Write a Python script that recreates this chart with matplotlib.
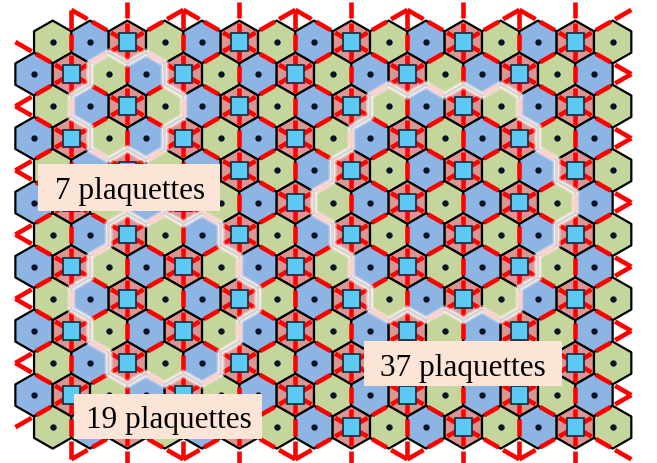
import numpy as np
import matplotlib
matplotlib.use('Agg')
import matplotlib.pyplot as plt
from matplotlib.patches import Rectangle, PathPatch
from matplotlib.collections import PolyCollection, LineCollection
from matplotlib.path import Path

# honeycomb of plaquettes: 13 rows of 16 cells, odd rows shifted half a cell to the left
n_rows = 13
n_cols = 16
# three-colouring of the plaquettes, pattern along a row (even rows / odd rows)
kinds_even = ['green', 'blue', 'red']
kinds_odd = ['blue', 'red', 'green']
fill_colors = {'green': '#C4D69B', 'blue': '#8DB4E2', 'red': '#DA9694'}

# highlighted clusters: (row, col) of the central plaquette and number of rings
cluster_centres = [(2, 2), (8, 3), (5, 11)]
cluster_rings = [1, 2, 3]
cluster_labels = ['7 plaquettes', '19 plaquettes', '37 plaquettes']

# label boxes (left, top, width, height) and text start (x, baseline) in pixels
label_boxes = [(38, 165, 182, 47), (74, 395, 188, 45), (364, 342, 198, 45)]
label_text_pos = [(55, 199), (86, 428), (380, 376)]

W, H = 657, 464
x0, y0 = 52.7, 43.0
dx, dy = 37.33, 32.1
R = dy / 1.5
hw = dx / 2


def centre(r, c):
    return x0 + c * dx - (r % 2) * hw, y0 + r * dy


def kind(r, c):
    row = kinds_odd if r % 2 else kinds_even
    return row[c % 3]


def cell_at(x, y):
    r = int(round((y - y0) / dy))
    c = int(round((x - x0 + (r % 2) * hw) / dx))
    return r, c


def is_real(r, c):
    return 0 <= r < n_rows and 0 <= c < n_cols


def axial(r, c):
    return c - (r + (r & 1)) // 2, r


def hex_dist(a, b):
    q1, r1 = axial(*a)
    q2, r2 = axial(*b)
    dq, dr = q1 - q2, r1 - r2
    return (abs(dq) + abs(dr) + abs(dq + dr)) // 2


hex_offsets = np.array([(0, -R), (hw, -R / 2), (hw, R / 2),
                        (0, R), (-hw, R / 2), (-hw, -R / 2)])

fig = plt.figure(figsize=(W / 100, H / 100), dpi=100)
ax = fig.add_axes([0, 0, 1, 1])
ax.set_xlim(0, W)
ax.set_ylim(H, 0)
ax.axis('off')

# plaquettes
polys, colors = [], []
for r in range(n_rows):
    for c in range(n_cols):
        cx, cy = centre(r, c)
        polys.append(hex_offsets + (cx, cy))
        colors.append(fill_colors[kind(r, c)])
ax.add_collection(PolyCollection(polys, facecolors=colors, edgecolors='black',
                                 linewidths=1.6, zorder=1))

# red dashed bonds between red plaquettes (triangular lattice)
steps = [(0, 2 * dy), (1.5 * dx, dy), (1.5 * dx, -dy)]
pieces = [(0.0, 0.29), (0.37, 0.63), (0.71, 1.0)]
red_segs = []
for r in range(-2, n_rows + 2):
    for c in range(-2, n_cols + 2):
        if kind(r, c) != 'red':
            continue
        ax_, ay_ = centre(r, c)
        for sx, sy in steps:
            bx, by = ax_ + sx, ay_ + sy
            if not (is_real(r, c) or is_real(*cell_at(bx, by))):
                continue
            for f0, f1 in pieces:
                red_segs.append([(ax_ + f0 * sx, ay_ + f0 * sy),
                                 (ax_ + f1 * sx, ay_ + f1 * sy)])
ax.add_collection(LineCollection(red_segs, colors='#FF0000', linewidths=3.3,
                                 capstyle='butt', zorder=2))

# squares on red plaquettes, dots on the others
dots_x, dots_y = [], []
for r in range(n_rows):
    for c in range(n_cols):
        cx, cy = centre(r, c)
        if kind(r, c) == 'red':
            s = 17.5
            ax.add_patch(Rectangle((cx - s / 2, cy - s / 2), s, s,
                                   facecolor='#5BC9F2', edgecolor='#1B3345',
                                   linewidth=1.3, zorder=3))
        else:
            dots_x.append(cx)
            dots_y.append(cy)
ax.scatter(dots_x, dots_y, s=21, color='#0A1628', zorder=3, linewidths=0)

# white outlines around the clusters
for ctr, k in zip(cluster_centres, cluster_rings):
    verts, codes = [], []
    for r in range(n_rows):
        for c in range(n_cols):
            if hex_dist((r, c), ctr) > k:
                continue
            cx, cy = centre(r, c)
            pts = hex_offsets + (cx, cy)
            for i in range(6):
                a, b = pts[i], pts[(i + 1) % 6]
                mx, my = (a + b) / 2
                nb = cell_at(2 * mx - cx, 2 * my - cy)
                if hex_dist(nb, ctr) > k:
                    verts += [tuple(a), tuple(b)]
                    codes += [Path.MOVETO, Path.LINETO]
    outline = Path(verts, codes)
    ax.add_patch(PathPatch(outline, fill=False, edgecolor='#FBE3E3',
                           linewidth=6.0, alpha=0.45, capstyle='round',
                           joinstyle='round', zorder=4))
    ax.add_patch(PathPatch(outline, fill=False, edgecolor='white',
                           linewidth=3.8, alpha=0.7, capstyle='round',
                           joinstyle='round', zorder=4))

# labels
for text, (bx, by, bw, bh), (tx, ty) in zip(cluster_labels, label_boxes, label_text_pos):
    ax.add_patch(Rectangle((bx, by), bw, bh, facecolor='#FCE4D6',
                           edgecolor='none', zorder=5))
    ax.text(tx, ty, text, fontsize=22.5, family='Liberation Serif',
            color='black', ha='left', va='baseline', zorder=6)

fig.savefig('out.png', dpi=100)
